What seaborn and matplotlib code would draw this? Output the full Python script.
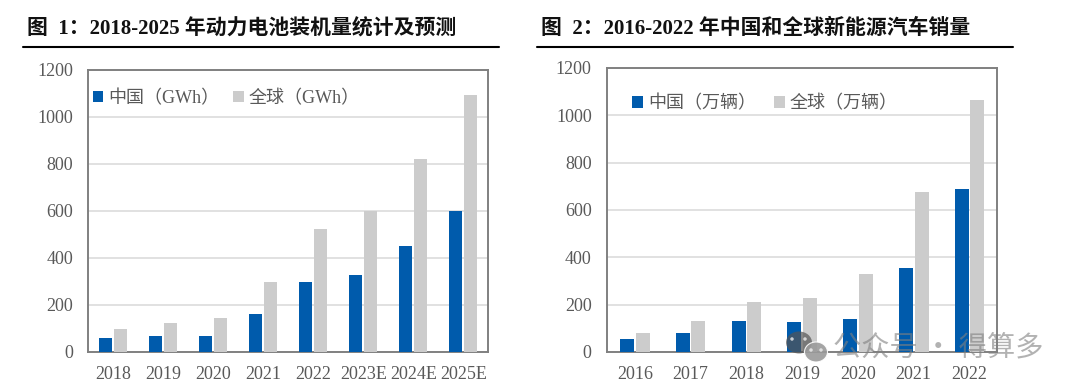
import matplotlib
matplotlib.use('Agg')
import matplotlib.pyplot as plt
from matplotlib.lines import Line2D
from matplotlib.patches import Ellipse
import pandas as pd
import seaborn as sns

# Dados do grafico 1
anos_1 = ['2018', '2019', '2020', '2021', '2022', '2023E', '2024E', '2025E']
china_1 = [60, 67, 67, 160, 298, 326, 451, 600]
global_1 = [95, 122, 142, 298, 521, 601, 821, 1095]

# Dados do grafico 2
anos_2 = ['2016', '2017', '2018', '2019', '2020', '2021', '2022']
china_2 = [55, 81, 130, 126, 140, 355, 690]
global_2 = [81, 130, 211, 230, 328, 677, 1066]

titulo_1 = '图  1：2018-2025 年动力电池装机量统计及预测'
titulo_2 = '图  2：2016-2022 年中国和全球新能源汽车销量'
legenda_1 = ['中国（GWh）', '全球（GWh）']
legenda_2 = ['中国（万辆）', '全球（万辆）']
marca_dagua = '公众号 · 得算多'

W, H = 1080, 391
AZUL = '#005bac'
CINZA = '#cccccc'

sns.set_theme(style='white')
plt.rcParams['font.family'] = ['Liberation Serif', 'Noto Sans CJK SC', 'DejaVu Sans']

fig = plt.figure(figsize=(W / 100, H / 100), dpi=100)
fig.patch.set_facecolor('white')


def eixo(x0, y0, x1, y1):
    # caixa em pixels da imagem (y para baixo)
    return fig.add_axes([x0 / W, 1 - y1 / H, (x1 - x0) / W, (y1 - y0) / H])


def grafico(ax, anos, china, mundo, nomes, largura, gap, leg_x, leg_y, coluna, leg_fonte):
    df = pd.DataFrame({'ano': anos * 2,
                       'valor': china + mundo,
                       'serie': [nomes[0]] * len(anos) + [nomes[1]] * len(anos)})
    sns.barplot(data=df, x='ano', y='valor', hue='serie', palette=[AZUL, CINZA],
                width=largura, gap=gap, saturation=1, linewidth=0, ax=ax, legend=False, zorder=3)
    ax.set_ylim(0, 1200)
    ax.set_xlim(-0.5, len(anos) - 0.5)
    ax.set_yticks(range(0, 1201, 200))
    ax.set_xlabel('')
    ax.set_ylabel('')
    ax.grid(axis='y', color='#dedede', linewidth=1.3, zorder=0)
    ax.set_axisbelow(True)
    ax.tick_params(axis='both', length=0, labelsize=13, labelcolor='#595959')
    ax.tick_params(axis='x', pad=10)
    ax.tick_params(axis='y', pad=11)
    for s in ax.spines.values():
        s.set_visible(True)
        s.set_color('#808080')
        s.set_linewidth(1.4)
    handles = [plt.Rectangle((0, 0), 1, 1, color=AZUL, linewidth=0),
               plt.Rectangle((0, 0), 1, 1, color=CINZA, linewidth=0)]
    ax.legend(handles, nomes, ncol=2, frameon=False, loc='upper left',
              bbox_to_anchor=(leg_x, leg_y), fontsize=leg_fonte, labelcolor='#595959',
              handlelength=0.59, handleheight=0.59, handletextpad=0.27,
              columnspacing=coluna, borderpad=0, borderaxespad=0)


ax1 = eixo(88.3, 70, 488.3, 351.7)
grafico(ax1, anos_1, china_1, global_1, legenda_1, 0.6, 0.133, 0.011, 0.93, 0.75, 13)

ax2 = eixo(607, 68, 997.3, 352)
grafico(ax2, anos_2, china_2, global_2, legenda_2, 0.563, 0.108, 0.065, 0.905, 1.0, 13)

# Titulos e linhas
fig.text(27 / W, 1 - 29 / H, titulo_1, fontsize=15, fontweight='bold', color='#111111', va='center')
fig.text(541 / W, 1 - 29 / H, titulo_2, fontsize=15, fontweight='bold', color='#111111', va='center')
fig.add_artist(Line2D([22.7 / W, 498.7 / W], [1 - 47 / H, 1 - 47 / H], color='black', linewidth=1.5))
fig.add_artist(Line2D([537.3 / W, 1012.7 / W], [1 - 47 / H, 1 - 47 / H], color='black', linewidth=1.5))

# Marca d'agua
fig.text(833 / W, 1 - 347 / H, marca_dagua, fontsize=20.3, color='#808080', alpha=0.6,
         va='center', family=['Noto Sans CJK SC', 'DejaVu Sans'])
fig.add_artist(Ellipse((799 / W, 1 - 342.5 / H), 26 / W, 22 / H, color='#555555', alpha=0.7, linewidth=0))
fig.add_artist(Ellipse((816 / W, 1 - 352 / H), 23 / W, 20 / H, facecolor='#9a9a9a', edgecolor='white',
                       linewidth=0.8, alpha=0.9))
for px, py in [(792, 339), (805, 339), (811, 350), (821, 350)]:
    fig.add_artist(Ellipse((px / W, 1 - py / H), 3.5 / W, 3.5 / H, color='#eeeeee', alpha=0.8, linewidth=0))

fig.savefig('out.png', dpi=100)
